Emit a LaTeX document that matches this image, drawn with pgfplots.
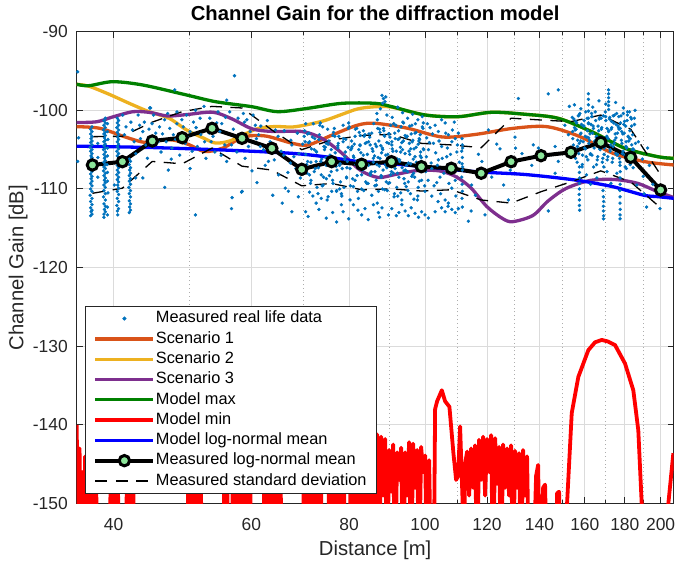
\documentclass[border=0pt]{standalone}
\usepackage{fontspec}
\setmainfont{Liberation Sans}
\usepackage{pgfplots}
\usepackage{pgfplotstable}
\pgfplotsset{compat=1.18}

\definecolor{mblue}{HTML}{0072BD}
\definecolor{morange}{HTML}{D95319}
\definecolor{myellow}{HTML}{EDB120}
\definecolor{mpurple}{HTML}{7E2F8E}
\definecolor{mgreen}{HTML}{008000}
\definecolor{axgray}{HTML}{262626}
\definecolor{lgreen}{HTML}{8CE69A}

% measured points (distance [m], gain [dB])
\pgfplotstableread{
d g
36.0 -95.1
36.0 -106.5
36.1 -103.5
37.4 -102.4
37.4 -103.0
37.45 -103.6
37.4 -104.1
37.35 -104.7
37.4 -105.2
37.45 -105.8
37.4 -106.3
37.4 -106.9
37.35 -107.5
37.4 -108.1
37.45 -108.7
37.4 -109.3
37.4 -110.0
37.35 -110.8
37.4 -111.6
37.4 -112.4
37.45 -112.9
37.4 -113.4
37.55 -102.1
37.55 -102.7
37.55 -103.3
37.55 -103.9
37.55 -104.4
37.55 -105.0
37.55 -105.5
37.55 -106.0
37.55 -106.6
37.55 -107.2
37.55 -107.8
37.55 -108.4
37.55 -109.0
37.55 -109.6
37.55 -110.3
37.55 -111.2
37.55 -112.0
37.55 -112.7
37.55 -113.2
38.2 -104.2
38.2 -106.0
38.2 -108.5
38.9 -101.3
38.9 -101.9
38.85 -102.5
38.9 -103.0
38.95 -103.5
38.9 -104.0
38.9 -104.5
38.85 -105.0
38.9 -105.6
38.95 -106.1
38.9 -106.6
38.9 -107.2
38.85 -107.7
38.9 -108.3
38.95 -108.9
38.9 -109.5
38.9 -110.2
38.85 -111.0
38.9 -111.9
38.95 -112.6
38.9 -113.2
38.9 -113.6
39.05 -101.0
39.05 -101.6
39.05 -102.2
39.05 -102.8
39.05 -103.2
39.05 -103.8
39.05 -104.3
39.05 -104.8
39.05 -105.3
39.05 -105.9
39.05 -106.4
39.05 -106.9
39.05 -107.4
39.05 -108.0
39.05 -108.6
39.05 -109.2
39.05 -109.8
39.05 -110.6
39.05 -111.4
39.05 -112.2
39.05 -112.9
39.3 -101.7
39.3 -102.7
39.35 -103.7
39.3 -104.8
39.3 -105.8
39.25 -106.9
39.3 -107.9
39.3 -109.0
39.35 -110.5
39.3 -112.3
39.3 -113.3
40.45 -101.0
40.45 -101.6
40.4 -102.2
40.45 -102.8
40.5 -103.4
40.45 -104.0
40.45 -104.6
40.4 -105.2
40.45 -105.8
40.5 -106.4
40.45 -107.0
40.45 -107.6
40.4 -108.2
40.45 -108.8
40.5 -109.5
40.45 -110.3
40.45 -111.2
40.4 -112.1
40.45 -112.8
40.5 -113.3
40.6 -101.3
40.6 -101.9
40.6 -102.5
40.6 -103.1
40.6 -103.7
40.6 -104.3
40.6 -104.9
40.6 -105.5
40.6 -106.1
40.6 -106.7
40.6 -107.3
40.6 -107.9
40.6 -108.5
40.6 -109.1
40.6 -109.9
40.6 -110.7
40.6 -111.6
40.6 -112.5
41.9 -106.2
41.9 -106.9
41.95 -107.6
41.9 -108.3
41.9 -109.0
41.85 -109.8
41.9 -110.6
41.9 -111.5
41.95 -112.3
41.9 -113.0
42.05 -106.5
42.05 -107.3
42.05 -108.0
42.05 -108.7
42.05 -109.4
42.05 -110.2
42.05 -111.0
42.05 -111.9
42.05 -112.7
41.1 -100.6
41.5 -102.1
41.3 -103.1
42.1 -101.5
42.3 -102.5
42.5 -104.0
43.0 -100.6
43.2 -101.9
43.6 -102.7
43.8 -101.5
44.0 -104.4
44.2 -106.1
44.6 -99.7
44.8 -101.7
45.3 -102.9
45.8 -102.1
46.0 -105.3
46.5 -101.2
46.7 -104.0
47.2 -102.3
47.5 -104.8
47.7 -103.1
48.2 -101.7
48.2 -100.2
48.6 -105.7
49.1 -102.1
49.4 -104.2
49.6 -100.6
50.1 -102.7
50.1 -107.4
50.6 -101.5
50.9 -100.0
51.2 -104.6
51.7 -103.1
52.2 -99.5
52.5 -106.1
52.8 -102.1
53.1 -101.0
53.3 -104.0
53.9 -105.3
54.4 -100.2
54.7 -102.7
55.0 -101.7
55.5 -104.4
55.8 -106.5
43.6 -108.6
46.5 -109.8
50.9 -113.3
47.9 -97.4
44.5 -99.7
42.7 -105.5
42.7 -108.6
40.1 -109.5
58.4 -110.3
56.7 -111.1
43.3 -103.6
44.4 -102.4
45.0 -100.6
45.6 -104.0
46.2 -103.0
46.9 -100.4
47.4 -106.2
48.0 -103.7
48.9 -101.2
49.7 -103.4
50.4 -105.2
51.0 -102.2
51.6 -101.0
52.3 -104.0
53.0 -102.9
53.6 -103.3
54.2 -101.6
54.9 -105.7
55.6 -100.9
47.0 -107.6
57.1 -95.6
55.8 -98.7
56.3 -100.2
57.7 -101.0
58.6 -100.4
59.2 -101.2
59.8 -102.7
60.3 -100.6
60.7 -101.9
58.9 -106.1
56.6 -104.4
61.3 -103.1
61.6 -104.6
62.5 -107.0
63.1 -106.5
63.4 -104.0
64.4 -102.5
65.0 -108.2
66.0 -105.7
66.3 -109.9
67.3 -106.7
67.6 -104.4
68.4 -107.4
69.0 -105.5
56.9 -102.4
57.5 -105.3
58.1 -103.0
58.8 -101.5
59.5 -104.6
60.1 -107.7
60.9 -103.6
61.7 -102.0
62.2 -105.0
62.9 -101.3
63.7 -104.8
64.2 -106.3
64.9 -103.3
65.5 -105.2
66.1 -102.6
66.8 -107.9
67.4 -103.8
68.0 -105.9
68.7 -102.9
69.3 -108.6
69.8 -104.3
61.0 -109.2
63.9 -110.8
66.9 -110.3
68.9 -111.0
70.1 -103.3
70.4 -101.7
70.8 -106.5
71.2 -104.0
71.5 -108.9
72.2 -105.0
72.6 -106.5
73.3 -103.1
73.7 -108.2
74.1 -109.5
74.8 -104.2
74.8 -107.0
75.2 -111.0
75.6 -105.7
75.9 -107.8
76.3 -109.3
76.7 -103.3
77.1 -110.3
77.4 -104.8
77.8 -107.0
78.2 -112.0
78.6 -104.0
79.0 -105.9
79.4 -108.6
79.8 -102.3
80.2 -107.4
80.6 -104.8
81.0 -109.7
81.4 -103.3
81.8 -106.5
82.2 -111.2
82.6 -104.4
83.0 -108.2
83.4 -105.7
83.8 -103.1
84.3 -109.3
84.7 -107.0
85.1 -104.4
85.5 -110.8
85.9 -106.1
86.3 -107.8
86.7 -109.5
58.3 -110.4
56.6 -112.5
65.7 -111.8
70.4 -112.9
74.8 -113.7
83.0 -113.3
83.8 -112.5
67.6 -112.9
72.6 -111.8
78.6 -112.9
77.1 -114.2
71.2 -110.4
81.0 -112.0
85.9 -112.0
73.7 -111.2
70.9 -113.5
73.2 -112.6
76.2 -113.0
79.9 -113.8
82.1 -112.7
84.6 -113.9
87.5 -113.6
92.6 -113.0
96.0 -112.4
99.0 -112.9
70.2 -102.6
70.6 -106.9
71.0 -104.1
71.4 -109.3
71.8 -103.4
72.2 -107.8
72.6 -105.2
73.0 -110.6
73.4 -101.9
73.8 -106.2
74.2 -108.5
74.6 -104.7
75.0 -111.4
75.4 -103.9
75.8 -105.8
76.2 -108.9
76.6 -102.3
77.0 -107.1
77.4 -104.5
77.8 -110.0
78.2 -110.6
78.6 -101.9
79.0 -106.2
79.4 -108.5
79.8 -104.7
80.2 -111.4
80.6 -103.9
81.0 -105.8
81.4 -108.9
81.8 -102.3
82.2 -107.1
82.6 -104.5
83.0 -110.0
83.4 -102.6
83.8 -106.9
84.2 -104.1
84.6 -109.3
85.0 -103.4
85.4 -107.8
85.8 -105.2
86.2 -105.8
86.6 -108.9
87.0 -102.3
87.4 -107.1
87.8 -104.5
88.2 -110.0
88.6 -102.6
89.0 -106.9
89.4 -104.1
89.8 -109.3
90.2 -103.4
90.6 -107.8
91.0 -105.2
91.4 -110.6
91.8 -101.9
92.2 -106.2
92.6 -108.5
93.0 -104.7
93.4 -111.4
93.8 -103.9
94.2 -109.3
94.6 -103.4
95.0 -107.8
95.4 -105.2
95.8 -110.6
96.2 -101.9
96.6 -106.2
97.0 -108.5
97.4 -104.7
97.8 -111.4
98.2 -103.9
98.6 -105.8
99.0 -108.9
99.4 -102.3
99.8 -107.1
70.4 -105.6
70.8 -103.0
71.2 -108.2
71.6 -104.9
72.0 -101.7
72.4 -107.4
72.8 -109.8
73.2 -103.7
73.6 -106.5
74.0 -102.1
74.4 -105.0
74.8 -108.7
75.2 -104.3
75.6 -106.9
76.0 -110.3
76.4 -102.8
76.8 -105.4
77.2 -107.6
77.6 -103.3
78.0 -109.1
78.4 -107.4
78.8 -109.8
79.2 -103.7
79.6 -106.5
80.0 -102.1
80.4 -105.0
80.8 -108.7
81.2 -104.3
81.6 -106.9
82.0 -110.3
82.4 -102.8
82.8 -105.4
83.2 -107.6
83.6 -103.3
84.0 -109.1
84.4 -105.6
84.8 -103.0
85.2 -108.2
85.6 -104.9
86.0 -101.7
86.4 -104.3
86.8 -106.9
87.2 -110.3
87.6 -102.8
88.0 -105.4
88.4 -107.6
88.8 -103.3
89.2 -109.1
89.6 -105.6
90.0 -103.0
90.4 -108.2
90.8 -104.9
91.2 -101.7
91.6 -107.4
92.0 -109.8
92.4 -103.7
92.8 -106.5
93.2 -102.1
93.6 -105.0
94.0 -108.7
94.4 -107.6
94.8 -103.3
95.2 -109.1
95.6 -105.6
96.0 -103.0
96.4 -108.2
96.8 -104.9
97.2 -101.7
97.6 -107.4
98.0 -109.8
98.4 -103.7
98.8 -106.5
99.2 -102.1
99.6 -105.0
70.3 -104.0
70.7 -108.0
71.1 -102.9
71.5 -106.6
71.9 -110.9
72.3 -103.6
72.7 -105.3
73.1 -107.3
73.5 -101.6
73.9 -109.6
74.3 -104.6
74.7 -106.0
75.1 -102.4
75.5 -108.3
75.9 -105.0
76.3 -103.2
76.7 -107.0
77.1 -110.2
77.5 -104.2
77.9 -106.8
78.3 -110.9
78.7 -103.6
79.1 -105.3
79.5 -107.3
79.9 -101.6
80.3 -109.6
80.7 -104.6
81.1 -106.0
81.5 -102.4
81.9 -108.3
82.3 -105.0
82.7 -103.2
83.1 -107.0
83.5 -110.2
83.9 -104.2
84.3 -106.8
84.7 -104.0
85.1 -108.0
85.5 -102.9
85.9 -106.6
86.3 -109.6
86.7 -104.6
87.1 -106.0
87.5 -102.4
87.9 -108.3
88.3 -105.0
88.7 -103.2
89.1 -107.0
89.5 -110.2
89.9 -104.2
90.3 -106.8
90.7 -104.0
91.1 -108.0
91.5 -102.9
91.9 -106.6
92.3 -110.9
92.7 -103.6
93.1 -105.3
93.5 -107.3
93.9 -101.6
94.3 -103.2
94.7 -107.0
95.1 -110.2
95.5 -104.2
95.9 -106.8
96.3 -104.0
96.7 -108.0
97.1 -102.9
97.5 -106.6
97.9 -110.9
98.3 -103.6
98.7 -105.3
99.1 -107.3
99.5 -101.6
99.9 -109.6
86.8 -100.4
87.7 -99.8
89.4 -100.6
90.8 -100.9
92.3 -99.6
93.6 -100.3
95.0 -101.0
96.4 -100.5
97.9 -101.2
99.2 -100.8
86.9 -101.2
87.3 -103.9
87.6 -106.1
87.9 -108.5
88.2 -104.8
88.5 -102.3
88.8 -110.1
89.1 -105.7
89.4 -107.3
89.8 -103.0
90.1 -109.2
90.4 -101.9
90.7 -104.4
91.0 -106.8
91.3 -111.0
91.6 -103.6
91.9 -105.2
92.2 -108.0
92.5 -102.6
92.8 -106.3
93.1 -110.5
93.4 -104.1
93.7 -101.5
94.0 -107.7
94.3 -105.5
94.6 -109.7
94.9 -103.3
95.2 -106.7
95.6 -102.0
95.9 -104.9
96.2 -108.4
96.5 -103.8
96.8 -111.3
97.1 -105.9
97.4 -102.8
97.7 -107.1
98.0 -104.3
98.3 -109.0
98.6 -103.1
98.9 -106.0
88.1 -98.1
88.5 -98.5
88.9 -98.9
88.3 -99.1
89.1 -98.3
86.9 -111.8
87.2 -113.0
88.1 -112.4
89.8 -113.3
90.7 -112.5
91.9 -113.4
93.4 -112.0
95.2 -113.4
97.1 -113.1
98.1 -113.6
94.3 -112.8
100.0 -113.3
101.0 -113.7
103.0 -112.9
105.0 -112.4
106.1 -111.4
106.1 -112.9
107.1 -111.8
108.2 -112.6
109.3 -113.0
110.3 -112.5
105.0 -101.2
106.1 -101.6
103.0 -101.9
104.0 -102.7
107.1 -103.1
108.2 -104.0
109.3 -103.6
110.3 -102.9
109.8 -105.3
105.0 -104.6
106.6 -105.9
101.0 -105.0
102.0 -107.4
103.5 -109.2
104.5 -108.5
100.0 -110.3
102.0 -110.9
108.2 -109.9
109.3 -108.9
100.5 -103.5
101.5 -102.2
102.5 -104.2
104.0 -106.3
107.5 -107.5
100.2 -107.8
99.5 -104.9
100.4 -105.9
100.9 -108.9
101.3 -104.1
101.8 -106.7
102.2 -103.0
102.7 -109.6
103.2 -105.4
103.7 -107.0
104.2 -103.9
104.7 -110.6
105.2 -106.1
105.7 -108.0
106.3 -102.9
106.8 -104.8
107.3 -109.3
107.8 -105.6
108.4 -102.5
108.9 -107.2
109.5 -110.9
110.0 -104.4
110.6 -106.6
100.7 -101.7
103.9 -111.6
107.0 -112.2
109.0 -101.5
111.5 -103.6
111.6 -104.4
111.4 -105.2
111.6 -106.0
111.5 -106.8
111.6 -107.6
111.4 -108.5
111.5 -109.4
111.6 -110.3
111.5 -111.2
111.6 -112.3
111.7 -104.8
111.7 -107.2
117.0 -105.6
119.3 -113.3
123.5 -104.3
124.7 -104.9
127.8 -111.4
130.3 -103.4
130.5 -104.8
131.6 -98.5
121.7 -108.5
118.2 -106.5
114.5 -112.8
113.6 -114.1
116.0 -110.8
126.0 -109.5
128.5 -107.6
133.0 -105.5
120.5 -102.5
114.7 -109.5
143.7 -97.9
148.0 -97.4
152.9 -99.5
171.6 -97.4
161.7 -97.9
161.7 -98.6
161.7 -99.3
161.7 -100.1
161.7 -101.0
161.7 -101.7
171.6 -97.9
171.6 -98.4
171.6 -98.9
171.6 -99.4
171.6 -99.9
137.5 -104.4
136.9 -107.0
139.6 -104.8
146.6 -104.6
143.7 -112.8
146.6 -108.0
148.0 -106.5
152.5 -103.1
150.9 -101.9
155.5 -102.5
154.2 -100.9
154.7 -104.4
155.2 -102.2
155.7 -106.1
156.2 -101.6
156.7 -103.8
157.2 -105.5
157.7 -100.4
158.2 -102.9
158.7 -107.2
159.2 -104.0
159.7 -101.3
160.2 -103.3
160.7 -105.9
161.2 -102.6
161.7 -101.6
162.2 -103.8
162.7 -105.5
163.2 -100.4
163.7 -102.9
164.2 -107.2
164.7 -104.0
165.2 -101.3
165.7 -103.3
166.2 -105.9
166.7 -102.6
167.2 -100.9
167.7 -104.4
168.2 -102.2
168.7 -106.1
169.2 -107.2
169.7 -104.0
170.2 -101.3
170.7 -103.3
171.2 -105.9
171.7 -102.6
172.2 -100.9
172.7 -104.4
173.2 -102.2
173.7 -106.1
174.2 -101.6
174.7 -103.8
175.2 -105.5
175.7 -100.4
176.2 -102.9
176.7 -102.2
177.2 -106.1
177.7 -101.6
178.2 -103.8
178.7 -105.5
179.2 -100.4
179.7 -102.9
180.2 -107.2
180.7 -104.0
181.2 -101.3
181.7 -103.3
182.2 -105.9
182.7 -102.6
183.2 -100.9
183.7 -104.4
184.2 -103.1
184.7 -105.0
185.2 -101.8
185.7 -104.2
154.45 -103.6
154.95 -101.1
155.45 -105.0
155.95 -102.4
156.45 -106.6
156.95 -100.7
157.45 -104.2
157.95 -103.0
158.45 -101.8
158.95 -105.7
159.45 -102.0
159.95 -104.8
160.45 -100.2
160.95 -103.4
161.45 -106.3
161.95 -104.2
162.45 -103.0
162.95 -101.8
163.45 -105.7
163.95 -102.0
164.45 -104.8
164.95 -100.2
165.45 -103.4
165.95 -106.3
166.45 -103.6
166.95 -101.1
167.45 -105.0
167.95 -102.4
168.45 -106.6
168.95 -100.7
169.45 -104.8
169.95 -100.2
170.45 -103.4
170.95 -106.3
171.45 -103.6
171.95 -101.1
172.45 -105.0
172.95 -102.4
173.45 -106.6
173.95 -100.7
174.45 -104.2
174.95 -103.0
175.45 -101.8
175.95 -105.7
176.45 -102.0
176.95 -102.4
177.45 -106.6
177.95 -100.7
178.45 -104.2
178.95 -103.0
179.45 -101.8
179.95 -105.7
180.45 -102.0
180.95 -104.8
181.45 -100.2
181.95 -103.4
182.45 -106.3
182.95 -103.6
183.45 -101.1
183.95 -105.0
154.35 -102.7
155.1 -105.2
155.85 -101.4
156.6 -104.6
157.35 -100.6
158.1 -103.9
158.85 -106.9
159.6 -102.0
160.35 -104.9
161.1 -101.0
161.85 -103.5
162.6 -105.6
163.35 -100.8
164.1 -102.3
164.85 -103.9
165.6 -106.9
166.35 -102.0
167.1 -104.9
167.85 -101.0
168.6 -103.5
169.35 -105.6
170.1 -100.8
170.85 -102.3
171.6 -102.7
172.35 -105.2
173.1 -101.4
173.85 -104.6
174.6 -100.6
175.35 -103.5
176.1 -105.6
176.85 -100.8
177.6 -102.3
178.35 -102.7
179.1 -105.2
179.85 -101.4
180.6 -104.6
181.35 -100.6
182.1 -103.9
182.85 -106.9
183.6 -102.0
184.35 -104.9
185.1 -101.0
155.2 -99.3
158.2 -99.8
163.8 -99.6
166.8 -98.8
170.2 -99.2
175.2 -99.0
179.2 -99.7
182.5 -100.2
185.5 -100.0
184.5 -107.3
160.8 -108.2
165.8 -108.6
170.8 -107.8
175.8 -108.0
180.8 -107.4
162.8 -109.4
172.8 -109.3
168.8 -110.2
157.5 -107.2
157.5 -107.9
157.6 -108.6
157.5 -109.3
157.5 -110.0
157.4 -110.7
157.5 -111.4
157.5 -112.1
157.6 -112.7
169.0 -111.0
169.1 -111.6
169.0 -112.2
169.0 -112.8
169.1 -113.4
169.0 -113.8
177.5 -107.0
177.6 -107.8
177.5 -108.6
177.5 -109.4
177.4 -110.2
177.5 -111.0
177.5 -111.8
177.6 -112.6
177.5 -113.3
177.5 -113.8
190.0 -108.4
191.9 -112.3
199.6 -112.5
187.3 -104.0
189.5 -106.2
192.5 -104.8
193.5 -107.0
186.5 -109.5
190.5 -110.6
195.5 -109.4
}\realdata

% model minimum (values below -150 dB fall outside the axis)
\pgfplotstableread{
d g
35.9 -140
36.05 -160
36.2 -143
36.35 -160
36.5 -146
36.65 -160
36.8 -144
37.0 -160
37.2 -147
37.4 -160
37.6 -145
37.8 -160
38.0 -146
38.15 -160
39.5 -160
39.7 -145
39.9 -160
40.1 -144
40.3 -160
40.5 -146
40.7 -160
41.5 -160
41.6 -146
41.8 -160
42.0 -145
42.2 -160
42.4 -147
42.5 -160
49.6 -160
49.9 -144
50.2 -160
50.5 -143
50.8 -160
51.1 -145
51.4 -160
51.7 -146
51.9 -160
55.3 -160
55.4 -145
55.7 -160
55.9 -147
56.1 -160
56.7 -160
56.8 -144
57.2 -160
57.6 -143
58.0 -160
58.4 -145
58.8 -160
59.2 -144
59.6 -160
59.8 -146
60.0 -160
62.2 -160
62.3 -143
62.8 -160
63.3 -144
63.8 -160
64.3 -142
64.8 -160
65.3 -145
65.8 -160
69.9 -160
70.0 -142
70.6 -160
71.2 -144
71.8 -160
72.4 -143
73.0 -160
73.6 -145
73.9 -160
75.3 -160
75.4 -142
76.0 -160
76.6 -144
77.2 -160
77.8 -143
78.4 -160
78.8 -146
79.1 -160
80.2 -160
80.3 -143
80.9 -160
81.5 -142
82.1 -160
82.6 -144
82.9 -160
83.6 -160
83.7 -141
84.3 -160
84.9 -143
85.5 -160
86.1 -142
86.5 -160
86.86 -141.2
87.37 -160
87.89 -141.5
88.41 -149
88.93 -141.8
89.45 -160
89.98 -143.2
90.51 -148.5
91.05 -142.5
91.58 -160
92.12 -143.5
92.67 -147
93.21 -142.9
93.76 -160
94.32 -143.5
94.87 -149
95.43 -142.2
96.00 -160
96.56 -142.4
97.13 -148
97.70 -143.2
98.28 -160
98.86 -142.8
99.44 -146
100.03 -143.9
100.62 -160
101.21 -144.5
101.81 -160
102.6 -160
103.01 -138
103.62 -137
105.06 -135.6
106.09 -137
107.44 -137.7
108.71 -143.6
109.58 -147
110.22 -146.5
110.87 -140.2
111.62 -149
112.02 -160
112.51 -145
113.18 -143.4
113.85 -149
114.52 -143.0
115.19 -148
115.87 -142.6
116.56 -160
117.24 -141.9
117.94 -147
118.63 -141.5
119.33 -149
120.03 -141.8
120.74 -146
121.46 -141.3
122.17 -160
122.89 -141.7
123.62 -147.5
124.35 -142.8
125.08 -160
125.81 -142.5
126.56 -148
127.30 -143.0
128.05 -149
128.81 -142.6
129.57 -160
130.33 -143.3
131.10 -148
131.88 -143.6
132.66 -160
133.43 -143.2
134.22 -149
135.01 -144
135.81 -160
137.41 -160
138.64 -146.5
139.46 -145.1
140.27 -160
141.52 -148
142.35 -147.6
143.19 -160
147.03 -160
147.47 -148.7
148.34 -148.5
148.77 -160
151.42 -160
151.87 -150
153.97 -138.5
156.99 -133.9
161.67 -130.5
164.89 -129.5
168.17 -129.2
171.32 -129.4
174.88 -129.85
180.11 -132.2
184.55 -135.6
187.29 -140.7
189.17 -150
189.89 -160
203.77 -160
204.56 -150
207.6 -143.6
}\modelmin

\begin{document}
\begin{tikzpicture}
\begin{axis}[
  at={(76.7bp,58.5bp)}, anchor=south west,
  scale only axis, width=596.8bp, height=471.8bp,
  xmode=log, xmin=35.9, xmax=207.7,
  ymin=-150, ymax=-90,
  xtick={40,60,80,100,120,140,160,180,200},
  xticklabels={40,60,80,100,120,140,160,180,200},
  minor xtick={50,70,90,110,130,150,170,190},
  ytick={-150,-140,-130,-120,-110,-100,-90},
  yticklabels={-150,-140,-130,-120,-110,-100,-90},
  xmajorgrids, ymajorgrids, xminorgrids,
  major grid style={line width=1bp, color=black!14},
  minor grid style={line width=0.9bp, color=black!32, dash pattern=on 0.9bp off 3bp},
  axis line style={line width=1bp, color=axgray},
  tick style={line width=1bp, color=axgray},
  major tick length=6bp, minor tick length=3.5bp,
  tick label style={color=axgray, font=\fontsize{17.5}{20}\selectfont},
  xticklabel style={anchor=base, inner sep=0pt, yshift=-26.5bp},
  yticklabel style={anchor=east, inner sep=0pt, xshift=-8.7bp},
  title={Channel Gain for the diffraction model},
  every axis title shift=0pt,
  title style={at={(axis description cs:0.5,1.0233)}, anchor=base,
    font=\bfseries\fontsize{20.3}{24}\selectfont},
  xlabel={Distance [m]},
  xlabel style={at={(axis description cs:0.5,-0.1102)}, anchor=base, color=axgray,
    font=\fontsize{20.3}{24}\selectfont},
  ylabel={Channel Gain [dB]},
  ylabel style={at={(axis description cs:-0.0895,0.5)}, anchor=base, color=axgray,
    font=\fontsize{20.3}{24}\selectfont},
  legend cell align=left,
  legend image code/.code={%
    \pgfpathmoveto{\pgfqpoint{0bp}{0bp}}\pgfpathlineto{\pgfqpoint{61bp}{0bp}}%
    \pgfusepath{use as bounding box}%
    \draw[mark repeat=2,mark phase=2,#1] plot coordinates {(3bp,0bp) (32bp,0bp) (61bp,0bp)};},
  legend style={at={(axis description cs:0.0139,0.0201)}, anchor=south west,
    draw=axgray, line width=0.8bp, fill=white,
    font=\fontsize{16.4}{19}\selectfont, text=black,
    inner xsep=7bp, inner ysep=2.5bp, row sep=0pt,
    nodes={inner xsep=2.5bp, inner ysep=2bp, text height=12.4bp, text depth=3.9bp}},
]
\addplot[only marks, mark=*, mark size=1.5bp, color=mblue,
  legend image code/.code={%
    \pgfpathmoveto{\pgfqpoint{0bp}{0bp}}\pgfpathlineto{\pgfqpoint{61bp}{0bp}}%
    \pgfusepath{use as bounding box}%
    \fill[mblue] (32bp,0bp) circle (1.6bp);}] table[x=d,y=g] {\realdata};
\addlegendentry{Measured real life data}

\addplot[morange, line width=3.3bp, smooth] coordinates {
(35.9,-102.08) (38.45,-102.29) (41.4,-103.39) (43.9,-104.09) (45.9,-103.84)
(47.6,-103.77) (49.9,-104.35) (52.3,-105.24) (55.2,-104.79) (58.6,-103.39)
(62.5,-103.26) (67.5,-104.16) (70.9,-104.41) (76.1,-103.14) (82.1,-101.87)
(86.4,-101.65) (95.1,-102.29) (105.2,-103.39) (115.9,-103.07) (129.6,-102.29)
(143.2,-102.08) (157.8,-103.35) (173.8,-105.46) (191.0,-106.53) (207.8,-106.95)};
\addlegendentry{Scenario 1}

\addplot[myellow, line width=3.3bp, smooth] coordinates {
(35.9,-96.69) (37.2,-96.93) (39.5,-97.96) (41.9,-99.11) (44.4,-100.17)
(47.1,-101.01) (49.6,-102.50) (52.1,-103.52) (54.0,-104.16) (56.3,-103.90)
(58.9,-103.01) (61.3,-102.29) (64.4,-102.06) (67.7,-102.12) (70.9,-101.80)
(74.5,-101.29) (78.4,-100.50) (82.1,-99.81) (86.4,-99.54) (90.7,-99.6)
(100,-100.59) (110.2,-100.81) (121.6,-100.25) (134.2,-100.50) (147.9,-101.01)
(163.3,-102.72) (180.1,-104.83) (198.4,-105.90) (207.8,-106.10)};
\addlegendentry{Scenario 2}

\addplot[mpurple, line width=3.3bp, smooth] coordinates {
(35.9,-101.55) (38.1,-101.45) (40.0,-100.81) (42.4,-100.17) (44.6,-100.28)
(46.9,-100.72) (49.7,-100.53) (53.6,-100.24) (56.7,-101.10) (60.2,-102.37)
(64.0,-102.69) (69.6,-102.69) (73.7,-103.52) (78.0,-105.30) (82.6,-107.59)
(87.1,-108.54) (91.6,-108.16) (98.0,-107.65) (104.6,-107.72) (109.7,-108.48)
(114.5,-109.88) (120.0,-112.26) (125.6,-113.76) (129.4,-114.16) (137.3,-113.38)
(143.6,-111.53) (151.4,-109.94) (162.5,-108.92) (174.8,-108.80) (186.8,-109.28)
(198.4,-110.35) (207.8,-111.09)};
\addlegendentry{Scenario 3}

\addplot[mgreen, line width=3.3bp, smooth] coordinates {
(35.9,-96.69) (37.2,-96.87) (39.9,-96.36) (43.6,-96.78) (49.6,-98.05)
(54.0,-98.90) (60.1,-99.54) (64.8,-100.17) (70.9,-99.74) (78.3,-99.11)
(86.4,-99.11) (90.7,-99.54) (100,-100.59) (110.2,-100.81) (121.6,-100.25)
(134.2,-100.50) (147.9,-101.01) (163.3,-102.72) (180.1,-104.83) (198.4,-105.90)
(207.8,-106.10)};
\addlegendentry{Model max}

\addplot[red, line width=3.8bp, line join=round] table[x=d,y=g] {\modelmin};
\addlegendentry{Model min}

\addplot[blue, line width=3.3bp, smooth] coordinates {
(35.9,-104.56) (44.6,-104.73) (55.4,-105.05) (67.4,-105.46) (74.5,-105.90)
(82.1,-106.51) (86.4,-106.63) (100,-107.17) (115.9,-107.80) (134.2,-108.16)
(155.5,-108.86) (172.1,-109.62) (180.1,-110.13) (191.0,-110.83) (198.4,-110.98)
(207.8,-111.19)};
\addlegendentry{Model log-normal mean}

\addplot[black, line width=4bp, mark=*, mark size=5.2bp,
  mark options={fill=lgreen, draw=black, line width=3bp}] coordinates {
(37.6,-106.95) (41.06,-106.53) (44.83,-103.90) (48.95,-103.48) (53.45,-102.29)
(58.37,-103.56) (63.73,-104.83) (69.59,-107.50) (75.99,-106.53) (82.98,-106.86)
(90.61,-106.53) (98.94,-107.17) (108.04,-107.37) (117.97,-108.00) (128.82,-106.53)
(140.66,-105.77) (153.59,-105.34) (167.71,-104.07) (183.13,-105.98) (199.97,-110.13)};
\addlegendentry{Measured log-normal mean}

\addplot[black, line width=1.3bp, dash pattern=on 12bp off 8.5bp] coordinates {
(37.6,-103.35) (41.06,-103.3) (44.83,-101.5) (48.95,-100.17) (53.45,-99.5)
(58.37,-99.7) (63.73,-102.5) (69.59,-105.0) (75.99,-103.77) (82.98,-103.2)
(90.61,-103.05) (98.94,-104.2) (108.04,-104.4) (117.97,-104.75) (128.82,-101.0)
(140.66,-101.23) (153.59,-101.44) (167.71,-100.6) (183.13,-102.4) (199.97,-108.2)};
\addlegendentry{Measured standard deviation}

\addplot[black, line width=1.3bp, dash pattern=on 12bp off 8.5bp, forget plot] coordinates {
(37.6,-110.55) (41.06,-109.9) (44.83,-106.5) (48.95,-106.8) (53.45,-104.8)
(58.37,-107.1) (63.73,-107.6) (69.59,-109.6) (75.99,-109.3) (82.98,-110.1)
(90.61,-110.0) (98.94,-110.26) (108.04,-110.1) (117.97,-111.4) (128.82,-111.8)
(140.66,-110.35) (153.59,-109.1) (167.71,-107.7) (183.13,-109.1) (199.97,-112.4)};
\end{axis}
\pgfresetboundingbox
\path[use as bounding box] (0,0) rectangle (675bp,562bp);
\end{tikzpicture}
\end{document}
